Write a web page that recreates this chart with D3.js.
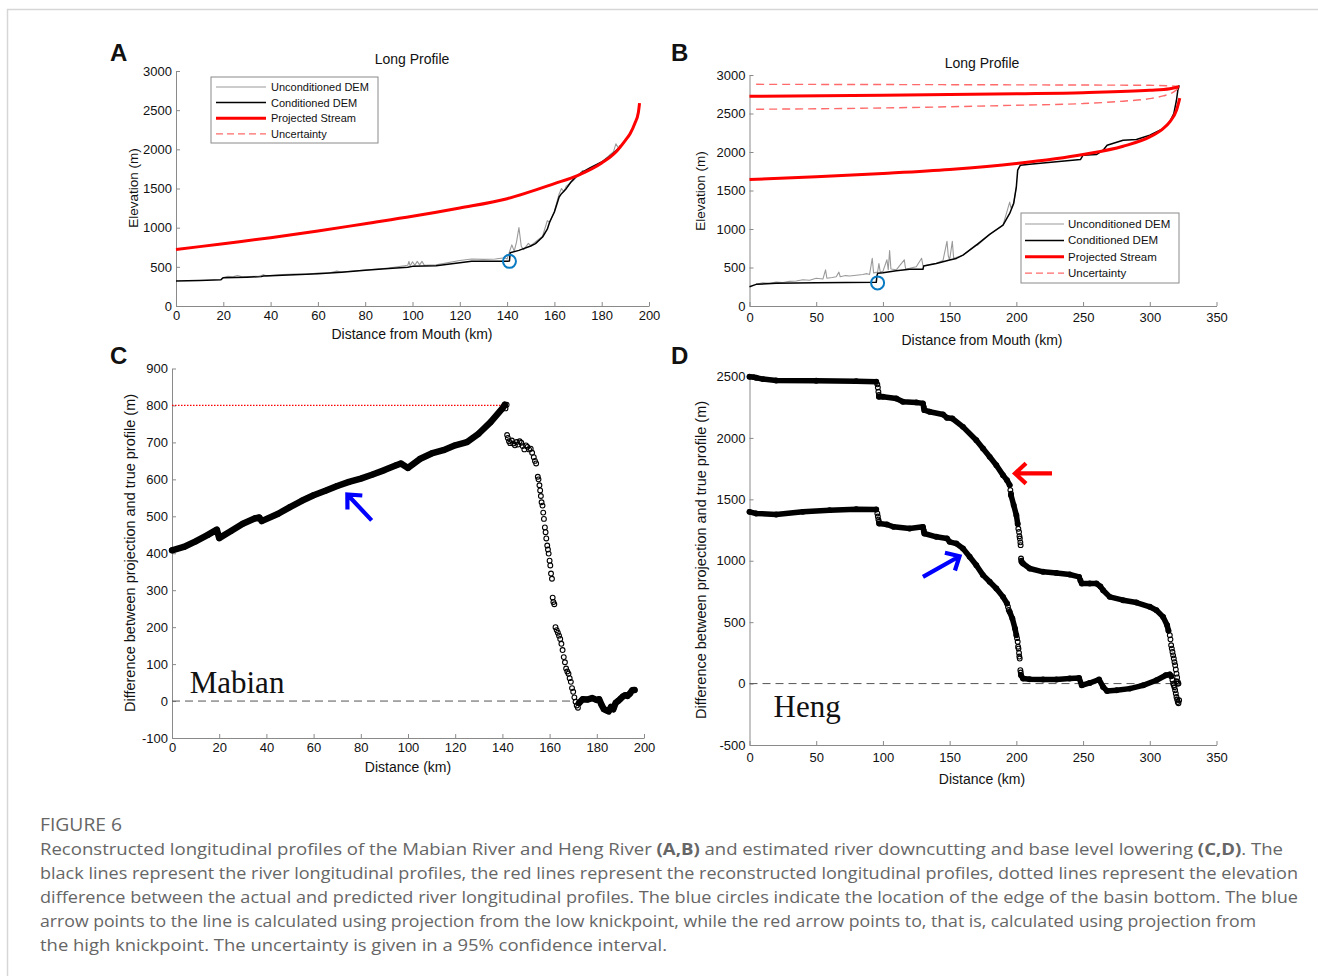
<!DOCTYPE html>
<html>
<head>
<meta charset="utf-8">
<script src="https://cdn.jsdelivr.net/npm/d3@7"></script>
<style>
    body { margin: 0; background: #fff; }
</style>
</head>
<body>
<svg id="fig" width="1318" height="976" font-family="'Liberation Sans', Arial, sans-serif"></svg>
<script>
'use strict';

// ---- Panel A : Mabian long profile (km, m)
const mabianProjected = [[0,720],[20,796],[40,872],[60,957],[80,1051],[100,1145],[120,1251],[140,1370],[160,1562],[170,1668],[180,1825],[186,1966],[190,2115],[192,2200],[194,2330],[195.5,2470],[196,2590]];
const mabianConditioned = [[0,319],[5,322],[10,326],[19,336],[19.5,350],[20,362],[30,368],[36,375],[37,383],[40,385],[50,398],[60,413],[70,432],[80,455],[90,478],[98,495],[100,506],[110,515],[120,553],[125,570],[140,570],[141,575],[141.3,681],[145,710],[150,766],[152,796],[155,881],[157,980],[158,1072],[160,1200],[162,1391],[163,1434],[165,1498],[167,1583],[169,1647],[172,1711],[175,1762],[180,1838],[183,1902],[185,1953],[187,2009],[188,2050]];
const mabianUnconditioned = [[20,362],[22,380],[24,372],[26,390],[28,372],[35,380],[37,400],[38,385],[45,400],[50,408],[55,405],[60,420],[65,425],[68,445],[70,435],[80,460],[90,485],[98,520],[98.5,570],[99,510],[100,565],[101,520],[102,570],[103,525],[104,570],[105,520],[110,525],[120,580],[125,600],[130,595],[135,600],[139,615],[140,600],[141,690],[142,780],[143,700],[144,820],[145,1000],[146,760],[147,720],[149,800],[150,770],[155,890],[157,1090],[158,1070],[160,1210],[162,1430],[163,1500],[164,1460],[165,1530],[168,1600],[172,1730],[173,1700],[176,1770],[180,1840],[185,1970],[186,2070],[187,2020]];
const mabianBasinEdge = [141, 570];

// ---- Panel B : Heng long profile (km, m)
const hengProjectedLow = [[0,1643],[50,1677],[100,1721],[150,1773],[200,1850],[250,1967],[280,2075],[300,2196],[310,2304],[315,2391],[320,2542],[322.5,2700]];
const hengProjectedHigh = [[0,2724],[100,2737],[200,2758],[250,2771],[300,2801],[315,2822],[322,2848]];
const hengUncertaintyUp = [[5,2879],[100,2876],[200,2872],[300,2866],[322,2852]];
const hengUncertaintyLow = [[5,2555],[100,2572],[200,2607],[250,2629],[280,2660],[300,2693],[310,2728],[318,2780],[322,2840]];
const hengConditioned = [[0,251],[5,281],[20,294],[50,303],[95,307],[95.5,390],[96,424],[100,432],[110,458],[120,476],[130,476],[130.5,519],[140,553],[150,597],[155,618],[160,661],[170,791],[180,930],[190,1050],[195,1202],[198,1332],[200,1548],[201,1764],[203,1829],[210,1842],[230,1872],[248,1902],[250,1959],[260,1967],[265,2023],[268,2088],[280,2153],[290,2162],[300,2218],[310,2304],[315,2391],[318,2499],[320,2672],[321,2801],[322,2866]];
const hengUnconditioned = [[5,281],[10,300],[15,295],[20,310],[25,305],[30,320],[35,325],[40,340],[45,335],[50,360],[55,350],[57,470],[58,360],[62,370],[65,380],[67,440],[68,380],[72,395],[75,390],[80,400],[85,410],[88,420],[90,410],[92,620],[93,430],[96,440],[97,550],[98,440],[100,450],[103,600],[104,470],[105,720],[106,480],[110,470],[116,600],[117,480],[120,490],[125,510],[129,620],[130,520],[135,540],[140,555],[145,590],[148,840],[149,650],[150,600],[152,840],[153,620],[160,660],[170,800],[171,790],[180,930],[190,1050],[195,1350],[196,1270],[198,1340],[200,1548]];
const hengBasinEdge = [96, 300];

// ---- Panel C : Mabian difference (km, m)
const mabianDiffBand = [
    [[0,408],[5,417],[10,432],[15,449],[19,464],[20,441],[25,460],[30,480],[35,494],[37,497],[38,487],[45,507],[50,525],[55,542],[60,557],[65,569],[70,582],[75,593],[80,602],[85,613],[90,625],[95,638],[97,643],[100,631],[105,655],[110,670],[115,679],[120,692],[125,701],[130,724],[135,755],[140,792],[141,802]],
    [[172.5,-5],[174,5],[176,4],[178,8],[180,3],[181,5],[182,-10],[183,-22],[184,-25],[185,-28],[186,-16],[187,-22],[188,-5],[189,0],[190,6],[191,12],[192,16],[193,14],[194,20],[195,29],[196,30]]
];
const mabianDiffSparse = [[141.3,792],[141.8,802],[142,720],[142.3,712],[142.8,703],[143.3,698],[144,705],[144.6,697],[145.3,692],[146,701],[146.6,694],[147.3,703],[148,699],[148.6,690],[149.3,681],[150,692],[150.6,688],[151.3,681],[152,683],[152.6,672],[153.3,660],[153.8,650],[154.3,643],[155,607],[155.3,600],[155.7,584],[156,570],[156.3,555],[156.6,538],[157,529],[157.3,510],[157.6,493],[158,470],[158.3,457],[158.6,440],[159,421],[159.3,410],[159.6,399],[160,380],[160.3,367],[160.6,345],[161,331],[161.3,280],[161.6,268],[162,262],[162.5,200],[163,192],[163.5,185],[164,177],[164.5,168],[165,155],[165.5,138],[166,119],[166.5,105],[167,88],[167.5,80],[168,74],[168.5,62],[169,52],[169.5,35],[170,25],[170.5,10],[171,-2],[171.5,-12],[172,-18]];
const mabianKnickHeight = [[0,800],[141,800]];
const mabianZero = [[0,0],[170,0]];
const mabianArrow = [[84.6,489],[74.3,559]];

// ---- Panel D : Heng difference (km, m)
const hengHighBand = [
    [[0,2498],[3,2495],[5,2490],[10,2479],[20,2468],[50,2465],[80,2462],[95,2457]],
    [[97,2335],[100,2335],[110,2321],[115,2294],[125,2289],[130,2281],[130.6,2250],[131,2226],[135,2213],[145,2191],[148,2164],[152,2158],[160,2090],[170,1981],[175,1914],[180,1846],[185,1778],[190,1697],[193,1656],[195,1616]],
    [[196,1534],[198,1453],[200,1371],[201,1300]],
    [[204,990],[205,978],[210,937],[220,910],[230,901],[240,888],[247,869],[248,840],[249,815],[255,815],[260,815],[263,790],[265,760],[270,706],[280,679],[290,660],[300,625],[305,597],[310,543],[313,475],[314,430]]
];
const hengHighSparse = [[95.8,2436],[96.2,2410],[96.6,2376],[97,2350],[195.5,1575],[196,1545],[201.5,1260],[202,1235],[202.3,1200],[202.6,1181],[203,1150],[203.2,1127],[203.5,1018],[203.7,1000],[315,394],[315.5,360],[316,312],[316.5,285],[317,258],[317.5,230],[318,204],[318.5,175],[319,149],[319.5,115],[320,81],[320.5,50],[321,14],[321.5,0]];
const hengLowBand = [
    [[0,1398],[5,1385],[20,1377],[40,1398],[60,1412],[80,1420],[95,1417]],
    [[97.2,1303],[103,1295],[108,1276],[120,1263],[130,1276],[130.6,1245],[131,1222],[140,1195],[148,1181],[150,1154],[155,1140],[160,1100],[165,1032],[170,964],[175,883],[180,829],[185,774],[190,706],[193,652]],
    [[195,584],[197,530],[199,448],[200,394]],
    [[203.5,68],[205,41],[210,35],[220,33],[230,33],[240,41],[247,46],[249,-14],[255,5],[262,33],[265,-27],[268,-60],[275,-54],[285,-41],[295,-14],[305,27],[312,68],[315,75],[316,60]]
];
const hengLowSparse = [[95.8,1385],[96.2,1360],[96.6,1335],[97,1317],[193.7,625],[194.3,600],[200.5,370],[201,340],[201.3,300],[201.6,285],[202,250],[202.2,220],[202.5,204],[203,109],[203.3,90],[317,30],[317.5,0],[318,-14],[318.5,-30],[319,-54],[319.5,-80],[320,-109],[320.5,-130],[321,-150],[321.5,-160],[322,-136],[321,0],[320,20]];
const hengZero = [[0,0],[318,0]];
const hengRedArrow = [[226.7,1711],[199,1711]];
const hengBlueArrow = [[130,869],[157.4,1037]];

// ---- ticks / labels
const ticksA_x = [0,20,40,60,80,100,120,140,160,180,200];
const ticksA_y = [0,500,1000,1500,2000,2500,3000];
const ticksB_x = [0,50,100,150,200,250,300,350];
const ticksB_y = [0,500,1000,1500,2000,2500,3000];
const ticksC_y = [-100,0,100,200,300,400,500,600,700,800,900];
const ticksD_y = [-500,0,500,1000,1500,2000,2500];
const legendLabels = ['Unconditioned DEM', 'Conditioned DEM', 'Projected Stream', 'Uncertainty'];

const svg = d3.select('#fig');
const serif = "'Liberation Serif', 'Times New Roman', serif";

// figure frame
svg.append('path')
    .attr('d', 'M7.5,976V9.5H1318')
    .attr('fill', 'none').attr('stroke', '#d6d6d6').attr('stroke-width', 1.5);

// scales
const xA = d3.scaleLinear().domain([0, 200]).range([176, 649]);
const yA = d3.scaleLinear().domain([0, 3000]).range([306, 71]);
const xB = d3.scaleLinear().domain([0, 350]).range([749.5, 1216.5]);
const yB = d3.scaleLinear().domain([0, 3000]).range([306, 75]);
const xC = d3.scaleLinear().domain([0, 200]).range([172, 644]);
const yC = d3.scaleLinear().domain([-100, 900]).range([738, 368.5]);
const xD = d3.scaleLinear().domain([0, 350]).range([749.5, 1216.5]);
const yD = d3.scaleLinear().domain([-500, 2500]).range([745, 376.5]);

function drawAxes(x, y, xTicks, yTicks, xPad) {
    const g = svg.append('g');
    const xa = g.append('g')
        .attr('transform', `translate(0,${y.range()[0]})`)
        .call(d3.axisBottom(x).tickValues(xTicks).tickSizeInner(-4).tickSizeOuter(0).tickPadding(xPad || 5).tickFormat(d => String(d)));
    const ya = g.append('g')
        .attr('transform', `translate(${x.range()[0]},0)`)
        .call(d3.axisLeft(y).tickValues(yTicks).tickSizeInner(-4).tickSizeOuter(0).tickPadding(4).tickFormat(d => String(d)));
    [xa, ya].forEach(a => {
        a.attr('font-size', 13).attr('font-family', "'Liberation Sans', Arial, sans-serif");
        a.select('.domain').attr('stroke', '#8a8a8a');
        a.selectAll('.tick line').attr('stroke', '#8a8a8a');
        a.selectAll('.tick text').attr('fill', '#111');
    });
}

function addText(x, y, txt, opts) {
    opts = opts || {};
    const t = svg.append('text')
        .attr('x', x).attr('y', y)
        .attr('font-size', opts.size || 13.5)
        .attr('text-anchor', opts.anchor || 'middle')
        .attr('fill', opts.fill || '#111')
        .text(txt);
    if (opts.rotate) t.attr('transform', `rotate(-90,${x},${y})`);
    if (opts.weight) t.attr('font-weight', opts.weight);
    if (opts.family) t.attr('font-family', opts.family);
    return t;
}

function drawLine(data, x, y, stroke, width, opts) {
    opts = opts || {};
    const line = d3.line().x(d => x(d[0])).y(d => y(d[1]));
    if (opts.smooth) line.curve(d3.curveMonotoneX);
    const p = svg.append('path')
        .datum(data)
        .attr('d', line)
        .attr('fill', 'none')
        .attr('stroke', stroke)
        .attr('stroke-width', width)
        .attr('stroke-linejoin', 'round')
        .attr('stroke-linecap', opts.cap || 'butt');
    if (opts.dash) p.attr('stroke-dasharray', opts.dash);
    return p;
}

function drawDots(data, x, y) {
    svg.append('g').selectAll('circle')
        .data(data).join('circle')
        .attr('cx', d => x(d[0])).attr('cy', d => y(d[1]))
        .attr('r', 2.4)
        .attr('fill', 'none').attr('stroke', '#000').attr('stroke-width', 1.1);
}

function drawBand(segments, x, y, width) {
    segments.forEach(seg => {
        drawLine(seg, x, y, '#000', width, {cap: 'round'});
        drawDots(seg, x, y);
    });
}

function drawArrow(pts, x, y, color) {
    const [t, h] = pts;
    const x0 = x(t[0]), y0 = y(t[1]), x1 = x(h[0]), y1 = y(h[1]);
    const ang = Math.atan2(y1 - y0, x1 - x0);
    const len = 15, spread = Math.PI / 4.2;
    const a1 = [x1 - len * Math.cos(ang - spread), y1 - len * Math.sin(ang - spread)];
    const a2 = [x1 - len * Math.cos(ang + spread), y1 - len * Math.sin(ang + spread)];
    svg.append('path')
        .attr('d', `M${x0},${y0}L${x1},${y1}M${a1[0]},${a1[1]}L${x1},${y1}L${a2[0]},${a2[1]}`)
        .attr('fill', 'none').attr('stroke', color).attr('stroke-width', 4.2)
        .attr('stroke-linejoin', 'miter').attr('stroke-linecap', 'butt');
}

function drawLegend(x0, y0, w, h, rows) {
    svg.append('rect').attr('x', x0).attr('y', y0).attr('width', w).attr('height', h)
        .attr('fill', '#fff').attr('stroke', '#8a8a8a').attr('stroke-width', 1);
    const styles = [
        {stroke: '#9a9a9a', width: 1.2},
        {stroke: '#000', width: 1.5},
        {stroke: '#ff0000', width: 3},
        {stroke: '#ff6a6a', width: 1.3, dash: '7,4'}
    ];
    legendLabels.forEach((lab, i) => {
        const yy = y0 + rows.first + i * rows.step;
        const l = svg.append('line').attr('x1', x0 + rows.lx0).attr('x2', x0 + rows.lx1)
            .attr('y1', yy).attr('y2', yy)
            .attr('stroke', styles[i].stroke).attr('stroke-width', styles[i].width);
        if (styles[i].dash) l.attr('stroke-dasharray', styles[i].dash);
        addText(x0 + rows.tx, yy + 4, lab, {size: rows.size, anchor: 'start'});
    });
}

// ---------------- Panel A
drawAxes(xA, yA, ticksA_x, ticksA_y, 5);
drawLine(mabianUnconditioned, xA, yA, '#9a9a9a', 1.1);
drawLine(mabianConditioned, xA, yA, '#000', 1.5);
drawLine(mabianProjected, xA, yA, '#ff0000', 3, {smooth: true});
svg.append('circle').attr('cx', xA(mabianBasinEdge[0])).attr('cy', yA(mabianBasinEdge[1])).attr('r', 6.5)
    .attr('fill', 'none').attr('stroke', '#0a7bc2').attr('stroke-width', 2);
drawLegend(211, 77, 167, 66, {first: 10, step: 15.6, lx0: 5, lx1: 55, tx: 60, size: 11});
addText(412, 64, 'Long Profile', {size: 14});
addText(412, 339, 'Distance from Mouth (km)', {size: 14});
addText(138, 188, 'Elevation (m)', {size: 13.5, rotate: true});
addText(110, 61, 'A', {size: 24, weight: 'bold', anchor: 'start'});

// ---------------- Panel B
drawAxes(xB, yB, ticksB_x, ticksB_y, 7);
drawLine(hengUnconditioned, xB, yB, '#9a9a9a', 1.1);
drawLine(hengConditioned, xB, yB, '#000', 1.5);
drawLine(hengUncertaintyUp, xB, yB, '#ff6a6a', 1.4, {smooth: true, dash: '8,5'});
drawLine(hengUncertaintyLow, xB, yB, '#ff6a6a', 1.4, {smooth: true, dash: '8,5'});
drawLine(hengProjectedHigh, xB, yB, '#ff0000', 3, {smooth: true});
drawLine(hengProjectedLow, xB, yB, '#ff0000', 3, {smooth: true});
svg.append('circle').attr('cx', xB(hengBasinEdge[0])).attr('cy', yB(hengBasinEdge[1])).attr('r', 6.5)
    .attr('fill', 'none').attr('stroke', '#0a7bc2').attr('stroke-width', 2);
drawLegend(1021, 213, 158, 70, {first: 11, step: 16.4, lx0: 4, lx1: 43, tx: 47, size: 11.5});
addText(982, 68, 'Long Profile', {size: 14});
addText(982, 345, 'Distance from Mouth (km)', {size: 14});
addText(705, 191, 'Elevation (m)', {size: 13.5, rotate: true});
addText(671, 61, 'B', {size: 24, weight: 'bold', anchor: 'start'});

// ---------------- Panel C
drawAxes(xC, yC, ticksA_x, ticksC_y, 5);
drawLine(mabianZero, xC, yC, '#555', 1, {dash: '8,5'});
drawLine(mabianKnickHeight, xC, yC, '#ff0000', 1.2, {dash: '1.5,1.5'});
drawBand(mabianDiffBand, xC, yC, 6.5);
drawDots(mabianDiffSparse, xC, yC);
drawArrow(mabianArrow, xC, yC, '#0000ff');
addText(408, 772, 'Distance (km)', {size: 14});
addText(135, 553, 'Difference between projection and true profile (m)', {size: 14.5, rotate: true});
addText(xC(7.5), yC(23), 'Mabian', {size: 31, anchor: 'start', family: serif});
addText(110, 364, 'C', {size: 24, weight: 'bold', anchor: 'start'});

// ---------------- Panel D
drawAxes(xD, yD, ticksB_x, ticksD_y, 8);
drawLine(hengZero, xD, yD, '#555', 1, {dash: '8,5'});
drawBand(hengHighBand, xD, yD, 5.5);
drawDots(hengHighSparse, xD, yD);
drawBand(hengLowBand, xD, yD, 5.5);
drawDots(hengLowSparse, xD, yD);
drawArrow(hengRedArrow, xD, yD, '#ff0000');
drawArrow(hengBlueArrow, xD, yD, '#0000ff');
addText(982, 784, 'Distance (km)', {size: 14});
addText(706, 560, 'Difference between projection and true profile (m)', {size: 14.5, rotate: true});
addText(xD(18), yD(-268), 'Heng', {size: 31, anchor: 'start', family: serif});
addText(671, 364, 'D', {size: 24, weight: 'bold', anchor: 'start'});

// ---------------- Caption
const captionFont = "'Open Sans', 'Noto Sans', sans-serif";
const captionLines = [
    [['Reconstructed longitudinal profiles of the Mabian River and Heng River ', 0], ['(A,B)', 1], [' and estimated river downcutting and base level lowering ', 0], ['(C,D)', 1], ['. The', 0]],
    [['black lines represent the river longitudinal profiles, the red lines represent the reconstructed longitudinal profiles, dotted lines represent the elevation', 0]],
    [['difference between the actual and predicted river longitudinal profiles. The blue circles indicate the location of the edge of the basin bottom. The blue', 0]],
    [['arrow points to the line is calculated using projection from the low knickpoint, while the red arrow points to, that is, calculated using projection from', 0]],
    [['the high knickpoint. The uncertainty is given in a 95% confidence interval.', 0]]
];
const captionWidths = [1243, 1258, 1258, 1216, 627];

svg.append('text').attr('x', 40).attr('y', 831)
    .attr('font-family', captionFont).attr('font-size', 17.5).attr('fill', '#666')
    .attr('textLength', 82).attr('lengthAdjust', 'spacingAndGlyphs')
    .text('FIGURE 6');

captionLines.forEach((parts, i) => {
    const t = svg.append('text').attr('x', 40).attr('y', 855 + i * 24)
        .attr('font-family', captionFont).attr('font-size', 16.5).attr('fill', '#666')
        .attr('textLength', captionWidths[i]).attr('lengthAdjust', 'spacingAndGlyphs')
        .attr('xml:space', 'preserve');
    parts.forEach(p => {
        t.append('tspan').attr('font-weight', p[1] ? 'bold' : null).text(p[0]);
    });
});
</script>
</body>
</html>
